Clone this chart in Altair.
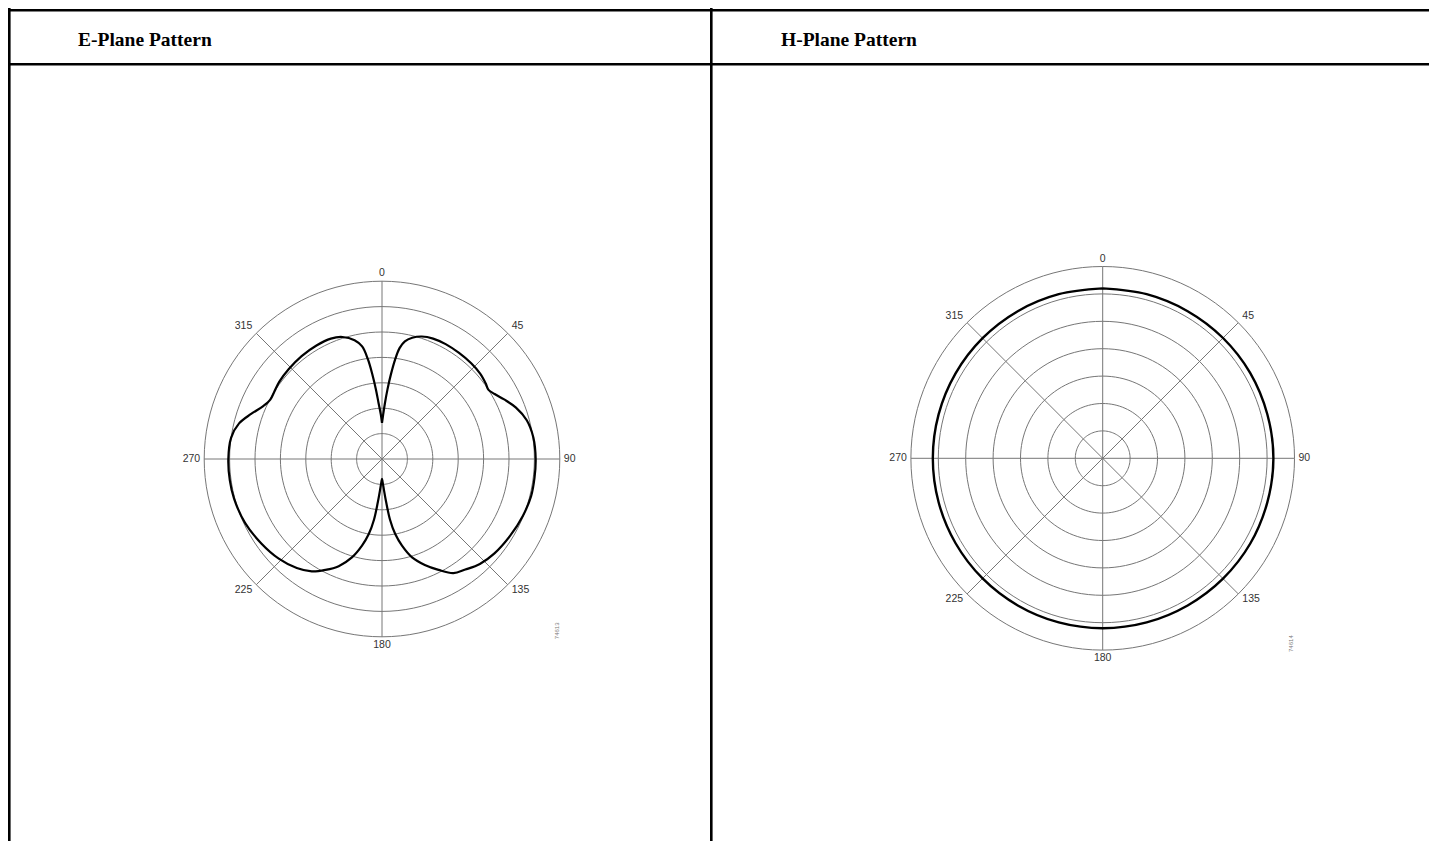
import altair as alt
import pandas as pd

# ---------------- data ----------------
# E-plane pattern: angle (deg, clockwise from top) and radius in grid-ring units (outer ring = 7)
e_angle = [0, 1.5, 3, 4.5, 6, 7.5, 9, 11, 14, 18, 23, 29, 36, 43, 49, 54, 57, 60, 64, 69, 75,
           82, 90, 97, 104, 112, 121, 130, 137, 143, 148, 153, 158, 163, 167, 170, 172.5,
           174.5, 176.5, 178.5, 180, 181.5, 183.5, 185.5, 187.5, 190, 193, 197, 202, 207,
           212, 218, 226, 235, 245, 255, 262, 270, 278, 284, 289, 294, 298, 302, 307, 314,
           322, 330, 337, 342, 347, 350, 352, 353.5, 355, 356.5, 358.5, 360]
e_radius = [1.42, 1.75, 2.2, 2.75, 3.35, 3.95, 4.42, 4.72, 4.92, 5.07, 5.15, 5.17, 5.16, 5.15,
            5.12, 5.05, 5.0, 5.12, 5.35, 5.65, 5.9, 6.02, 6.05, 6.05, 6.05, 5.98, 5.88, 5.78,
            5.65, 5.45, 5.3, 4.9, 4.5, 4.05, 3.5, 3.0, 2.4, 1.7, 1.2, 0.9, 0.78, 0.9, 1.2,
            1.7, 2.4, 3.0, 3.5, 4.05, 4.55, 4.9, 5.22, 5.45, 5.65, 5.8, 5.95, 6.03, 6.05, 6.05,
            6.0, 5.8, 5.45, 5.12, 4.98, 5.0, 5.06, 5.1, 5.14, 5.16, 5.15, 5.05, 4.8, 4.5,
            3.95, 3.35, 2.75, 2.2, 1.75, 1.42]

# H-plane pattern (nearly omnidirectional)
h_angle = [0, 15, 30, 45, 60, 75, 90, 105, 120, 135, 150, 165, 180, 195, 210, 225, 240,
           255, 270, 285, 300, 315, 330, 345, 360]
h_radius = [6.2, 6.2, 6.2, 6.21, 6.22, 6.22, 6.23, 6.22, 6.22, 6.21, 6.2, 6.2, 6.2, 6.2,
            6.2, 6.2, 6.2, 6.2, 6.2, 6.2, 6.2, 6.2, 6.2, 6.2, 6.2]

ring_levels = [1, 2, 3, 4, 5, 6, 7]
spoke_angles = [0, 45, 90, 135, 180, 225, 270, 315]
spoke_labels = ["0", "45", "90", "135", "180", "225", "270", "315"]
headers = ["E-Plane Pattern", "H-Plane Pattern"]
figure_ids = ["74613", "74614"]

# ---------------- layout ----------------
HDR_H = 55
CELL_H = 778
E_W = 702
H_W = 719
GRID = "#767676"
LABEL = "#333333"
BW = 2.6  # border thickness

POLAR = dict(px="datum.r * sin(datum.a * PI / 180)",
             py="datum.r * cos(datum.a * PI / 180)")

label_groups = [
    (["0"], "center", "bottom", 0, -3),
    (["180"], "center", "top", 0, 3),
    (["90"], "left", "middle", 4, 0),
    (["270"], "right", "middle", -4, 0),
    (["45"], "left", "bottom", 4, -2),
    (["315"], "right", "bottom", -4, -2),
    (["135"], "left", "top", 4, 0),
    (["225"], "right", "top", -4, 0),
]


def borders(width, height, top_off=0.0):
    one = alt.Data(values=[{}])
    left = alt.Chart(one).mark_rect(color="black", strokeWidth=0).encode(
        x=alt.value(0), x2=alt.value(BW), y=alt.value(0), y2=alt.value(height))
    top = alt.Chart(one).mark_rect(color="black", strokeWidth=0).encode(
        x=alt.value(0), x2=alt.value(width), y=alt.value(top_off), y2=alt.value(top_off + BW))
    return [left, top]


def header(text, width, tx):
    t = alt.Chart(pd.DataFrame({"t": [text]})).mark_text(
        font="Liberation Serif", fontWeight="bold", fontSize=19.5, align="left",
        baseline="middle", color="black").encode(
        x=alt.value(tx), y=alt.value(31.5), text="t:N")
    return alt.layer(t, *borders(width, HDR_H, top_off=1.0)).properties(
        width=width, height=HDR_H)


def polar_panel(angles, radii, cx, cy, unit, width, line_w, fig_id):
    xdom = [-cx / unit, (width - cx) / unit]
    ydom = [-(CELL_H - cy) / unit, cy / unit]
    xs = alt.Scale(domain=xdom, nice=False, zero=False)
    ys = alt.Scale(domain=ydom, nice=False, zero=False)
    X = lambda f: alt.X(f, type="quantitative", scale=xs, axis=None)
    Y = lambda f: alt.Y(f, type="quantitative", scale=ys, axis=None)
    outer = max(ring_levels)

    ring_rows = [{"r": lv, "a": a} for lv in ring_levels for a in range(0, 361, 3)]
    rings = alt.Chart(pd.DataFrame(ring_rows)).transform_calculate(**POLAR).mark_line(
        color=GRID, strokeWidth=1).encode(
        x=X("px"), y=Y("py"), detail="r:N", order="a:Q")

    spk = pd.DataFrame({"a": spoke_angles, "lab": spoke_labels})
    spk["r"] = outer
    spokes = alt.Chart(spk).transform_calculate(zx="0", zy="0", **POLAR).mark_rule(
        color=GRID, strokeWidth=1).encode(
        x=X("zx"), y=Y("zy"), x2="px:Q", y2="py:Q")

    labels = []
    for labs, al, bl, dx, dy in label_groups:
        labels.append(
            alt.Chart(spk).transform_filter(
                alt.FieldOneOfPredicate(field="lab", oneOf=labs)
            ).transform_calculate(**POLAR).mark_text(
                font="Liberation Sans", fontSize=10.5, color=LABEL, align=al,
                baseline=bl, dx=dx, dy=dy).encode(x=X("px"), y=Y("py"), text="lab:N"))

    curve = alt.Chart(pd.DataFrame({"a": angles, "r": radii})).transform_calculate(
        **POLAR).mark_line(color="black", strokeWidth=line_w,
                           interpolate="catmull-rom").encode(
        x=X("px"), y=Y("py"), order="a:Q")

    fid = alt.Chart(pd.DataFrame({"t": [fig_id], "a": [134.5], "r": [9.65]})).transform_calculate(
        **POLAR).mark_text(font="Liberation Sans", fontSize=6, color="#777777",
                           angle=270, baseline="middle", align="center").encode(
        x=X("px"), y=Y("py"), text="t:N")

    return alt.layer(rings, spokes, curve, *labels, fid, *borders(width, CELL_H)).properties(
        width=width, height=CELL_H)


e_panel = polar_panel(e_angle, e_radius, 374, 396, 25.4, E_W, 2.2, figure_ids[0])
h_panel = polar_panel(h_angle, h_radius, 392.7, 395.3, 27.4, H_W, 2.4, figure_ids[1])

left_col = alt.vconcat(header(headers[0], E_W, 70), e_panel, spacing=0)
right_col = alt.vconcat(header(headers[1], H_W, 71), h_panel, spacing=0)

chart = alt.hconcat(left_col, right_col, spacing=0).properties(
    padding={"left": 0, "top": 0, "right": 0, "bottom": 0},
    background="white",
).configure_view(stroke=None)

chart.save("out.html", embed_options={"renderer": "svg", "actions": False})
